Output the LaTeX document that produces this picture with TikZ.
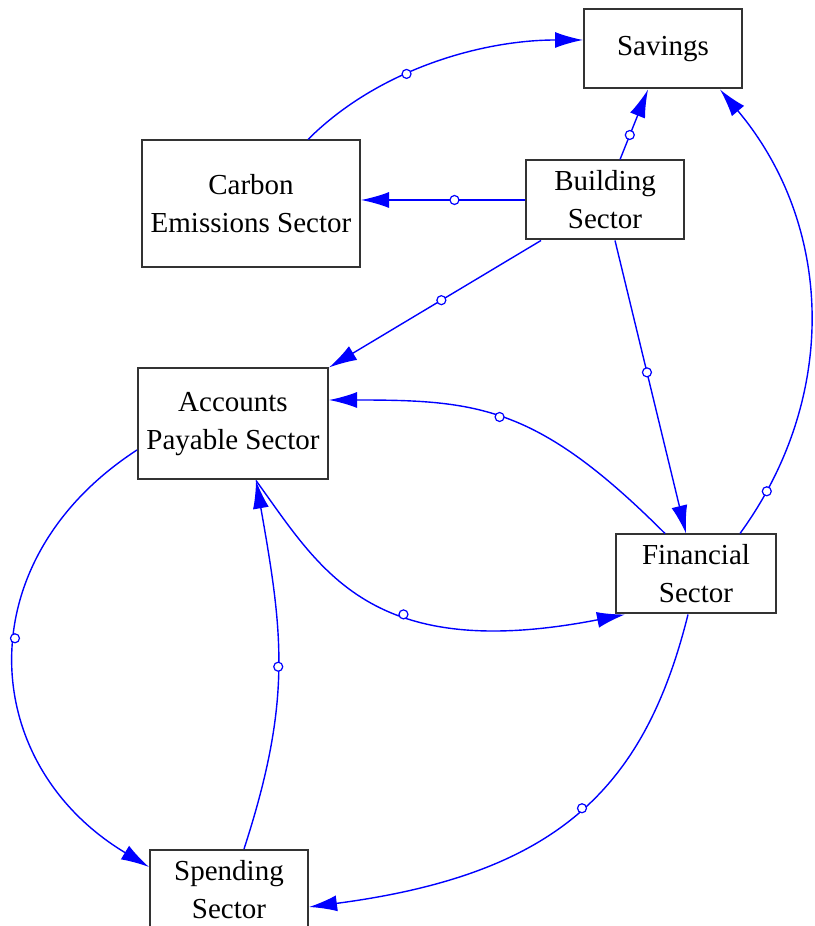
\documentclass[tikz,border=0pt]{standalone}
\usepackage{fontspec}
\setmainfont{Liberation Serif}
\usepackage{tikz}
\usetikzlibrary{arrows.meta}
\tikzstyle{sector} = [rectangle, draw=black!80, line width=1pt, fill=white, 
align=center, font=\fontsize{14.5}{19}\selectfont, inner sep=0pt, minimum width=79pt, minimum height=39.5pt]
\tikzstyle{link} = [draw, blue, line width=0.7pt, -{Latex[length=14pt, width=8pt]}]
\tikzstyle{valve} = [circle, draw=blue, fill=white, line width=0.6pt, inner sep=0pt, minimum size=4.5pt]

\begin{document}
\begin{tikzpicture}[x=0.5pt, y=0.5pt]
\useasboundingbox (0,0) rectangle (814,926);
% Place nodes
\node [sector] (savings) at (663,877) {Savings};
\node [sector, minimum width=109pt, minimum height=63.5pt] (carbon) at (251,722) {Carbon\\Emissions Sector};
\node [sector] (building) at (605,726) {Building\\Sector};
\node [sector, minimum width=95pt, minimum height=55.5pt] (accounts) at (233,502) {Accounts\\Payable Sector};
\node [sector, minimum width=80pt] (financial) at (696,352) {Financial\\Sector};
\node [sector] (spending) at (229,36.5) {Spending\\Sector};
% Draw edges
\path [link] ([xshift=28.5pt]carbon.north) to [out=45, in=180, out distance=50pt, in distance=50pt] node [valve, pos=0.4] (v1) {} ([yshift=4.5pt]savings.west);
\path [link] ([xshift=7.5pt]building.north) -- node [valve, pos=0.35] (v2) {} ([xshift=-7.5pt]savings.south);
\path [link] (building.west) -- node [valve, pos=0.43] (v3) {} (building.west -| carbon.east);
\path [link] ([xshift=8pt]building.south west) -- node [valve, pos=0.47] (v4) {} (accounts.north east);
\path [link] ([xshift=5pt]building.south) -- node [valve, pos=0.45] (v5) {} ([xshift=-5pt]financial.north);
\path [link] ([xshift=-15.5pt]financial.north) to [out=135, in=0, out distance=90pt, in distance=75pt] node [valve, pos=0.52] (v6) {} ([yshift=12pt]accounts.east);
\path [link] ([xshift=11.5pt]accounts.south) to [out=-54, in=191, out distance=55pt, in distance=130pt] node [valve, pos=0.6] (v7) {} ([xshift=5pt]financial.south west);
\path [link] ([xshift=22pt]financial.north) to [out=54, in=-50, out distance=85pt, in distance=88pt] node [valve, pos=0.1] (v8) {} ([xshift=28.5pt]savings.south);
\path [link] ([yshift=-13pt]accounts.west) to [out=213, in=149, out distance=102pt, in distance=100pt] node [valve, pos=0.45] (v9) {} ([yshift=11.25pt]spending.west);
\path [link] ([xshift=7.5pt]spending.north) to [out=72, in=-80, out distance=78pt, in distance=78pt] node [valve, pos=0.5] (v10) {} ([xshift=11.5pt]accounts.south);
\path [link] ([xshift=-4pt]financial.south) to [out=-104, in=7.5, out distance=90pt, in distance=125pt] node [valve, pos=0.48] (v11) {} ([yshift=-8.75pt]spending.east);
\end{tikzpicture}
\end{document}
